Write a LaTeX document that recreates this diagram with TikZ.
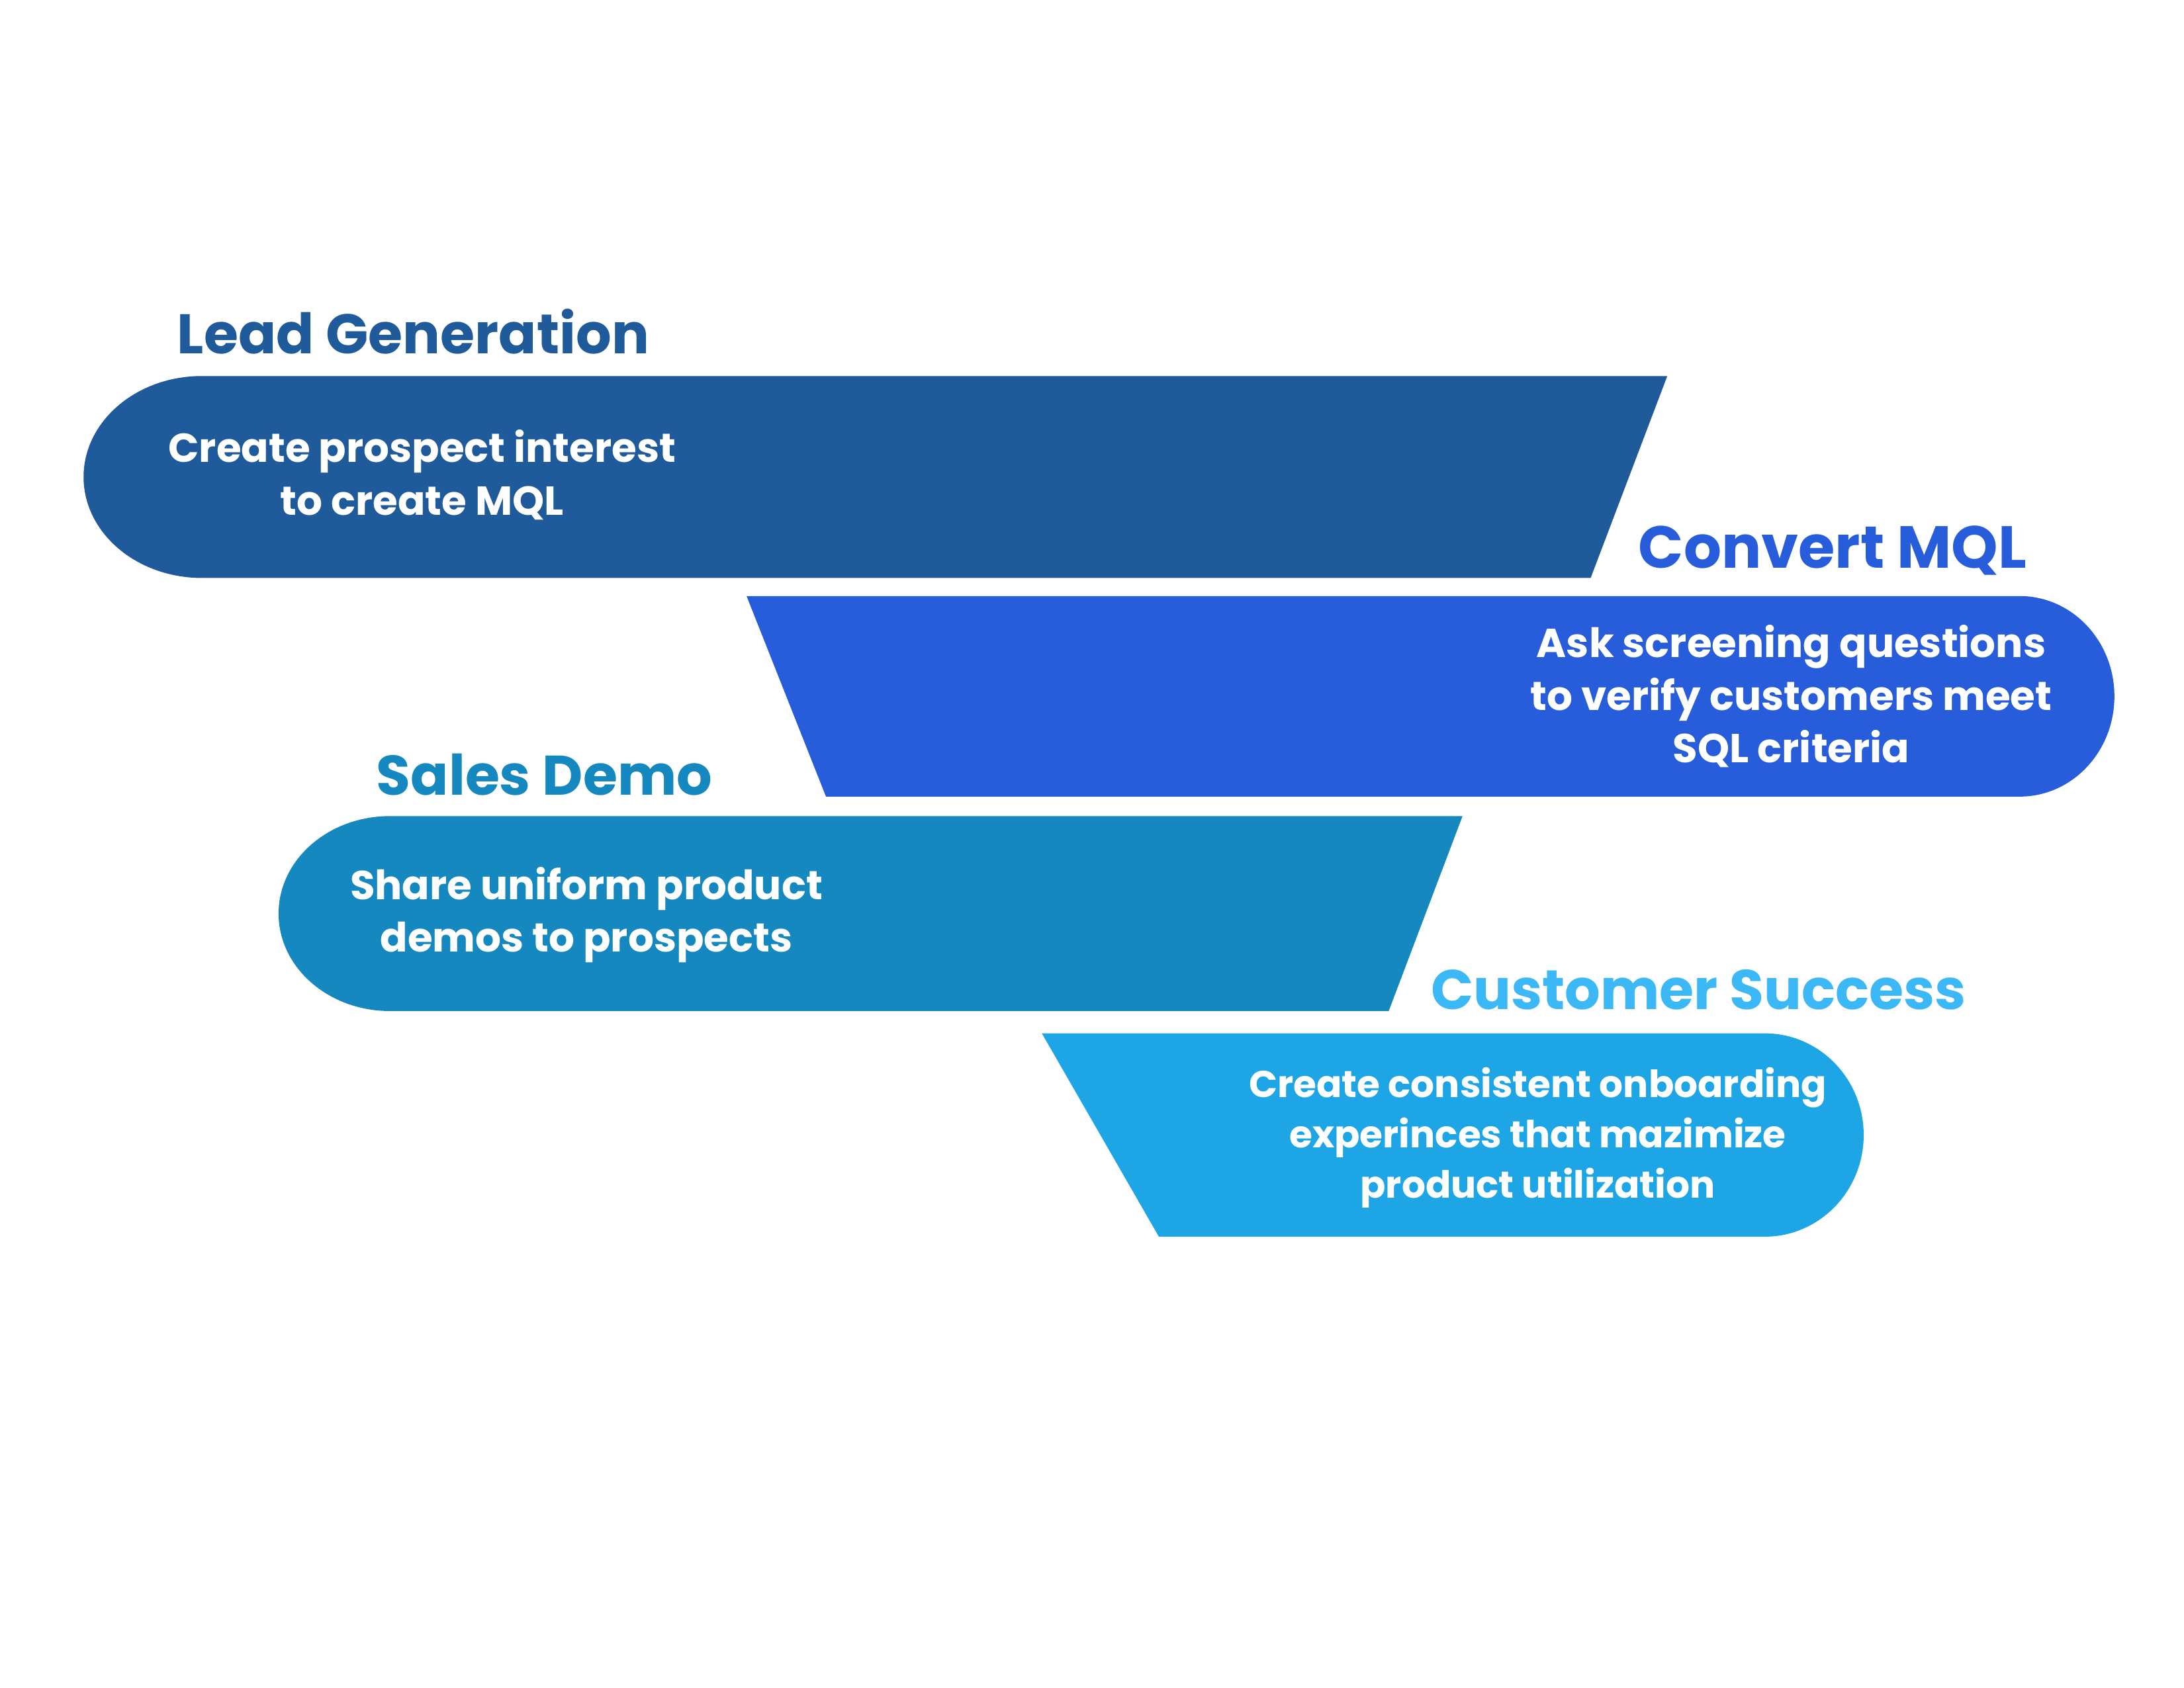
\documentclass[tikz,border=0pt]{standalone}
\usepackage{fontspec}
\setmainfont{Poppins}
\definecolor{lgblue}{HTML}{1F5A9A}
\definecolor{mqlblue}{HTML}{275CDB}
\definecolor{sdblue}{HTML}{1588BF}
\definecolor{csblue}{HTML}{1EA5E6}
\definecolor{cstitle}{HTML}{3BB8F5}
\tikzset{
  title/.style={anchor=base west, inner sep=0pt, font=\fontsize{24}{28}\selectfont\bfseries},
  bigtitle/.style={title, font=\fontsize{25.5}{30}\selectfont\bfseries},
  body/.style={align=center, inner sep=0pt, text=white, font=\fontsize{17.4}{22.6}\selectfont\bfseries},
  smallbody/.style={body, font=\fontsize{16.1}{21.6}\selectfont\bfseries}
}
\begin{document}
\begin{tikzpicture}[x=0.021046cm, y=-0.021046cm]
\useasboundingbox (0,0) rectangle (1568,1212);
\fill[white] (0,0) rectangle (1568,1212);
% Lead Generation
\fill[lgblue] (1197,270) -- (1142,415) -- (145,415)
  .. controls (98,415) and (60,382.5) .. (60,342.5)
  .. controls (60,302.5) and (98,270) .. (145,270) -- cycle;
% Convert MQL
\fill[mqlblue] (536,428) -- (1450,428)
  .. controls (1487.6,428) and (1518,460.2) .. (1518,500)
  .. controls (1518,539.8) and (1487.6,572) .. (1450,572) -- (593,572) -- cycle;
% Sales Demo
\fill[sdblue] (1050,586) -- (997,726) -- (280,726)
  .. controls (235.8,726) and (200,694.7) .. (200,656)
  .. controls (200,617.3) and (235.8,586) .. (280,586) -- cycle;
% Customer Success
\fill[csblue] (748,742) -- (1267,742)
  .. controls (1306.2,742) and (1338,774.7) .. (1338,815)
  .. controls (1338,855.3) and (1306.2,888) .. (1267,888) -- (832,888) -- cycle;

\node[title, text=lgblue] (t1) at (127,254) {Lead Generation};
\node[bigtitle, text=mqlblue] (t2) at (1176,408) {Convert MQL};
\node[title, text=sdblue] (t3) at (270,571) {Sales Demo};
\node[title, text=cstitle] (t4) at (1027,725) {Customer Success};

\node[body] (b1) at (303,341) {Create prospect interest\\to create MQL};
\node[body] (b2) at (1286,500) {Ask screening questions\\to verify customers meet\\SQL criteria};
\node[body] (b3) at (421,657) {Share uniform product\\demos to prospects};
\node[smallbody] (b4) at (1104,817) {Create consistent onboarding\\experinces that mazimize\\product utilization};
\end{tikzpicture}
\end{document}
